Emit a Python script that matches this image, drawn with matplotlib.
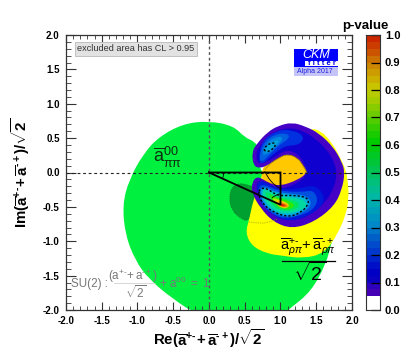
import numpy as np
import matplotlib
matplotlib.use('Agg')
import matplotlib.pyplot as plt
from matplotlib.path import Path
from matplotlib.patches import PathPatch, Rectangle
from matplotlib.colors import ListedColormap, BoundaryNorm
from matplotlib.ticker import MultipleLocator, FormatStrFormatter

plt.rcParams['font.family'] = ['Liberation Sans', 'DejaVu Sans']
plt.rcParams['mathtext.fontset'] = 'custom'
plt.rcParams['mathtext.rm'] = 'Liberation Sans'
plt.rcParams['mathtext.it'] = 'Liberation Sans:italic'
plt.rcParams['mathtext.bf'] = 'Liberation Sans:bold'
plt.rcParams['axes.unicode_minus'] = True

# colour scale
levels = [i * 0.025 for i in range(41)]
scale_colors = ['#ffffff', '#ffffff', '#4500b5', '#2c00bc', '#0a00c0', '#0000c4', '#0010c8', '#0024ca', '#0038cc', '#004ccc',
                '#0060c8', '#0074c8', '#0088c8', '#0094c0', '#00a0b8', '#00acb0', '#00b8a4', '#00bc90', '#00c07c', '#00c264',
                '#00c450', '#00c638', '#00c824', '#00ca10', '#00cc00', '#18cc00', '#34cc00', '#50cc00', '#6ccc00', '#88cc00',
                '#a4cc00', '#b8ca00', '#c8c400', '#ccb000', '#cc9c00', '#cc8800', '#cc7000', '#cc5400', '#cc3c00', '#cc2800']

# regions (Re, Im)
green_region = [(0, .75), (.34, .68), (.50, .51), (.64, .45), (.71, .33), (.69, 0), (1.2, -.4), (1.74, -.95),
                (1.71, -1.03), (1.64, -1.32), (1.43, -1.73), (1.13, -1.98), (1.0, -2.1), (-.12, -2.1),
                (-.52, -1.83), (-.85, -1.54), (-1.03, -1.28), (-1.17, -.91), (-1.21, -.47), (-1.12, -.11),
                (-.92, .27), (-.70, .52), (-.36, .71)]
yellow_region = [(.69, -.21), (.62, -.40), (.56, -.69), (.51, -.88), (.60, -1.07), (.81, -1.18), (1.02, -1.21),
                 (1.31, -1.25), (1.61, -1.18), (1.81, -.88), (1.92, -.59), (1.95, -.40), (1.95, -.18), (1.90, .11),
                 (1.64, .57), (1.38, .67), (1.13, .33), (.74, .04), (.74, -.05)]
orange_region = [(1.39, 0), (1.33, .13), (1.26, .24), (1.10, .31), (.95, .24), (.81, .13), (.74, .05),
                 (.74, -.09), (.81, -.19), (.99, -.24), (1.26, -.13)]
dark_green_region = [(.28, -.37), (.32, -.21), (.43, -.15), (.60, -.20), (.69, -.25), (.62, -.47), (.56, -.72),
                     (.43, -.66), (.32, -.55)]
shell = [(1.38, 0), (1.31, .11), (1.24, .21), (1.10, .27), (.97, .21), (.83, .11), (.71, .06), (.62, .10), (.60, .30),
         (.67, .42), (.82, .59), (.97, .68), (1.16, .73), (1.35, .67), (1.54, .57), (1.74, .37), (1.86, .15), (1.90, 0),
         (1.86, -.25), (1.75, -.49), (1.47, -.72), (1.16, -.82), (.90, -.72), (.72, -.52), (.60, -.30), (.60, -.14),
         (.68, -.05), (.83, -.15), (.99, -.20), (1.24, -.11)]
shell_inner = [(1.38, 0), (1.33, .13), (1.26, .26), (1.10, .33), (.98, .27), (.85, .17), (.72, .13), (.67, .15), (.66, .30),
               (.72, .40), (.85, .55), (.98, .62), (1.16, .65), (1.32, .60), (1.48, .50), (1.66, .32), (1.76, .13),
               (1.79, -.02), (1.75, -.22), (1.64, -.42), (1.42, -.62), (1.16, -.71), (.95, -.63), (.78, -.47), (.67, -.29),
               (.66, -.17), (.71, -.11), (.83, -.19), (1.0, -.25), (1.26, -.15)]

upper_bands = [
    ('#0030e0', [(.69, .18), (.74, .47), (.97, .62), (1.16, .62), (1.34, .53), (1.27, .40), (1.06, .39), (.88, .25), (.74, .11)]),
    ('#0060e0', [(.70, .21), (.76, .43), (.92, .56), (1.10, .57), (1.13, .50), (.97, .39), (.83, .24), (.74, .15)]),
    ('#0088e0', [(.74, .25), (.78, .40), (.92, .52), (1.05, .52), (.97, .40), (.83, .27)]),
    ('#00a8d8', [(.77, .30), (.81, .39), (.92, .46), (.99, .47), (.92, .39), (.83, .30)]),
]
lower_bands = [
    ('#0018d8', [(.66, -.18), (.74, -.11), (.88, -.20), (1.06, -.25), (1.27, -.23), (1.48, -.18), (1.62, -.33), (1.58, -.50),
                 (1.34, -.66), (1.10, -.71), (.88, -.62), (.71, -.44)]),
    ('#0050e0', [(.68, -.21), (.78, -.17), (.90, -.24), (1.10, -.28), (1.33, -.28), (1.46, -.26), (1.53, -.40), (1.45, -.55),
                 (1.24, -.64), (1.0, -.67), (.82, -.55), (.73, -.45)]),
    ('#0090e0', [(.70, -.23), (.81, -.21), (.92, -.28), (1.16, -.31), (1.38, -.34), (1.44, -.47), (1.31, -.59), (1.13, -.66),
                 (.92, -.60), (.76, -.47)]),
    ('#00b8d0', [(.72, -.24), (.82, -.23), (.93, -.30), (1.16, -.33), (1.36, -.37), (1.40, -.48), (1.27, -.58), (1.09, -.63),
                 (.91, -.58), (.76, -.43)]),
    ('#00d8a0', [(.74, -.25), (.83, -.25), (.94, -.33), (1.16, -.36), (1.34, -.40), (1.37, -.50), (1.24, -.57), (1.06, -.60),
                 (.90, -.55), (.77, -.40)]),
    ('#00e460', [(.78, -.28), (.85, -.30), (.97, -.36), (1.13, -.39), (1.27, -.44), (1.24, -.53), (1.09, -.57), (.92, -.52), (.81, -.37)]),
    ('#30e800', [(.83, -.31), (.92, -.36), (1.06, -.39), (1.20, -.46), (1.17, -.52), (1.05, -.55), (.92, -.47)]),
    ('#b0e000', [(.88, -.36), (.99, -.40), (1.13, -.46), (1.10, -.52), (1.01, -.52), (.92, -.44)]),
    ('#f0d000', [(.92, -.39), (1.03, -.41), (1.13, -.47), (1.08, -.52), (.99, -.50)]),
    ('#f09000', [(.94, -.41), (1.05, -.44), (1.12, -.49), (1.06, -.51), (.98, -.49)]),
    ('#e85000', [(.97, -.44), (1.06, -.46), (1.09, -.49), (1.02, -.50)]),
    ('#d82000', [(.99, -.46), (1.06, -.47), (1.05, -.49), (1.01, -.49)]),
]
upper_contour = [(.76, .33), (.81, .40), (.90, .44), (.94, .40), (.88, .33), (.81, .30)]
lower_contour = [(.69, -.33), (.76, -.47), (.92, -.59), (1.13, -.65), (1.31, -.57), (1.40, -.44), (1.37, -.36), (1.17, -.33),
                 (.99, -.34), (.90, -.30), (.81, -.23), (.71, -.23)]
dotted_arc = [(.56, -.72), (.70, -.74), (.83, -.73), (.95, -.68)]
orange_arc = [(.78, .04), (.83, .11), (.97, .21), (1.10, .27), (1.24, .21), (1.31, .11), (1.37, 0)]
black_arc = [(.78, .02), (.85, -.15), (.99, -.23)]
angle_origin = [(.20, 0), (.21, -.04), (.19, -.08)]
angle_vertex = [(.88, -.37), (.92, -.33), (.99, -.31)]
triangle_re = [0, 1, 1, 0]
triangle_im = [0, 0, -.47, 0]


def closed(pts):
    p = np.asarray(pts, float)
    n = len(p)
    mids = (p + np.roll(p, -1, axis=0)) / 2
    verts = [mids[-1]]
    codes = [Path.MOVETO]
    for i in range(n):
        verts += [p[i], mids[i]]
        codes += [Path.CURVE3, Path.CURVE3]
    return Path(verts, codes)


def opened(pts):
    p = np.asarray(pts, float)
    verts = [p[0]]
    codes = [Path.MOVETO]
    for i in range(1, len(p) - 1):
        end = p[i + 1] if i == len(p) - 2 else (p[i] + p[i + 1]) / 2
        verts += [p[i], end]
        codes += [Path.CURVE3, Path.CURVE3]
    return Path(verts, codes)


fig = plt.figure(figsize=(4.14, 3.61), dpi=100)
ax = fig.add_axes([66 / 414, 51 / 361, 286 / 414, 275 / 361])
ax.set_xlim(-2, 2)
ax.set_ylim(-2, 2)


def fill(pts, color, z, **kw):
    ax.add_patch(PathPatch(closed(pts), facecolor=color, edgecolor=kw.pop('edgecolor', 'none'), zorder=z, **kw))


def stroke(path, color, lw, ls='-', z=8):
    ax.add_patch(PathPatch(path, facecolor='none', edgecolor=color, lw=lw, ls=ls, zorder=z))


fill(green_region, '#00f040', 1)
fill(dark_green_region, '#00a030', 1.5, edgecolor='#1c6a30', lw=0.6, ls=(0, (1, 1.2)))
fill(yellow_region, '#ffff00', 2)
fill(orange_region, '#ffc800', 2.5)
fill(shell, '#4400c4', 3)
fill(shell_inner, '#1000d0', 3.1)
for i, (c, pts) in enumerate(upper_bands + lower_bands):
    fill(pts, c, 3.2 + i * 0.01)

stroke(closed(upper_contour), 'black', 1.0, (0, (1.5, 1.5)))
stroke(closed(lower_contour), 'black', 1.0, (0, (1.5, 1.5)))
stroke(opened(dotted_arc), '#a0a000', 0.6, (0, (1, 1.2)))
stroke(opened(orange_arc), '#a89000', 0.6)
stroke(opened(black_arc), 'black', 0.6)
stroke(opened(angle_origin), 'black', 0.6)
stroke(opened(angle_vertex), 'black', 0.6)

ax.axvline(0, color='#555555', lw=1.0, ls=(0, (2, 2)), zorder=6)
ax.axhline(0, color='#222222', lw=0.8, ls=(0, (2.5, 2.5)), zorder=6)
ax.plot(triangle_re, triangle_im, color='black', lw=1.3, zorder=9, solid_joinstyle='miter')

ax.xaxis.set_major_locator(MultipleLocator(0.5))
ax.xaxis.set_minor_locator(MultipleLocator(0.1))
ax.yaxis.set_major_locator(MultipleLocator(0.5))
ax.yaxis.set_minor_locator(MultipleLocator(0.1))
ax.xaxis.set_major_formatter(FormatStrFormatter('%.1f'))
ax.yaxis.set_major_formatter(FormatStrFormatter('%.1f'))
ax.tick_params(axis='x', which='major', direction='in', top=True, length=5.5, width=0.8, color='#333333', pad=4.5)
ax.tick_params(axis='y', which='major', direction='in', right=True, length=7.5, width=0.8, color='#333333', pad=4.5)
ax.tick_params(axis='x', which='minor', direction='in', top=True, length=3, width=0.6, color='#333333')
ax.tick_params(axis='y', which='minor', direction='in', right=True, length=3.5, width=0.6, color='#333333')
for lab in ax.get_xticklabels() + ax.get_yticklabels():
    lab.set_fontsize(7)
    lab.set_fontweight('bold')
for s in ax.spines.values():
    s.set_linewidth(0.9)
    s.set_color('#333333')
    s.set_zorder(12)

# axis titles
hy = '\u2010'
fig.text(209 / 414, 1 - 339 / 361, r'$\mathbf{Re(\overline{a}^{+' + hy + r'}\!+\overline{a}^{' + hy + r'+})/\sqrt{2}}$',
         fontsize=10.8, ha='center', va='center')
fig.text(21 / 414, 1 - 173 / 361, r'$\mathbf{Im(\overline{a}^{+' + hy + r'}\!+\overline{a}^{' + hy + r'+})/\sqrt{2}}$',
         fontsize=10.8, ha='center', va='center', rotation=90)

# annotations
ax.text(-1.84, 1.80, 'excluded area has CL > 0.95', fontsize=6.6, color='#333333', va='center', ha='left',
        bbox=dict(boxstyle='square,pad=0.25', facecolor='#e2e2e2', edgecolor='#b8b8b8', lw=0.6), zorder=10)
ax.text(-.78, .22, r'$\overline{\mathrm{a}}_{\mathrm{\pi\pi}}^{00}$', fontsize=13, color='#103010', va='center', ha='left', zorder=10)
ax.text(1.385, -1.08, r'$\overline{\mathrm{a}}_{\rho\pi}^{+' + hy + r'}\!+\overline{\mathrm{a}}_{\rho\pi}^{' + hy + r'+}$',
        fontsize=10.5, color='black', va='center', ha='center', zorder=10)
ax.plot([1.02, 1.76], [-1.29, -1.29], color='black', lw=0.9, zorder=10)
ax.text(1.41, -1.47, r'$\mathrm{\sqrt{2}}$', fontsize=14, color='black', va='center', ha='center', zorder=10)
gray = '#777777'
ax.text(-1.93, -1.62, 'SU(2) :', fontsize=8.4, color=gray, va='center', ha='left', zorder=10)
ax.text(-1.06, -1.51, r'$\mathrm{(a^{+' + hy + r'}\!+a^{' + hy + r'+})}$', fontsize=8.4, color=gray, va='center', ha='center', zorder=10)
ax.plot([-1.33, -0.76], [-1.61, -1.61], color='#c8c8c8', lw=0.5, zorder=10)
ax.text(-1.03, -1.75, r'$\mathrm{\sqrt{2}}$', fontsize=8.4, color=gray, va='center', ha='center', zorder=10)
ax.text(-.70, -1.62, r'$\mathrm{+\ a^{00}\ =\ 1}$', fontsize=8.4, color=gray, va='center', ha='left', zorder=10)

# logo
fig.add_artist(Rectangle((294 / 414, 1 - 76 / 361), 44 / 414, 10 / 361, transform=fig.transFigure, color='#c4c4f8', lw=0))
fig.add_artist(Rectangle((294 / 414, 1 - 67 / 361), 44 / 414, 18 / 361, transform=fig.transFigure, color='#0000ff', lw=0))
fig.add_artist(Rectangle((305 / 414, 1 - 66 / 361), 33 / 414, 5 / 361, transform=fig.transFigure, color='white', lw=0))
fig.text(316 / 414, 1 - 55 / 361, 'CKM', color='white', fontsize=9, style='italic', ha='center', va='center')
fig.text(322 / 414, 1 - 63.5 / 361, 'f i t t e r', color='#0000e0', fontsize=5.5, fontweight='bold', ha='center', va='center')
fig.text(315 / 414, 1 - 71.5 / 361, 'Alpha 2017', color='#2020e0', fontsize=5, ha='center', va='center')

# colour bar
cax = fig.add_axes([366 / 414, 51 / 361, 14 / 414, 275 / 361])
cmap = ListedColormap(scale_colors)
norm = BoundaryNorm(levels, cmap.N)
cax.pcolormesh([0, 1], levels, np.array([(a + b) / 2 for a, b in zip(levels[:-1], levels[1:])]).reshape(-1, 1),
               cmap=cmap, norm=norm)
cax.set_xticks([])
cax.yaxis.tick_right()
cax.set_yticks(np.arange(0, 1.01, 0.1))
cax.yaxis.set_major_formatter(FormatStrFormatter('%.1f'))
cax.tick_params(axis='y', direction='in', length=6.5, width=0.9, pad=3.5)
for lab in cax.get_yticklabels():
    lab.set_fontsize(8)
    lab.set_fontweight('bold')
for s in cax.spines.values():
    s.set_linewidth(0.8)
    s.set_color('#333333')
fig.text(365 / 414, 1 - 26 / 361, 'p-value', fontsize=9.5, fontweight='bold', ha='center', va='center')

fig.savefig('out.png', dpi=100)
